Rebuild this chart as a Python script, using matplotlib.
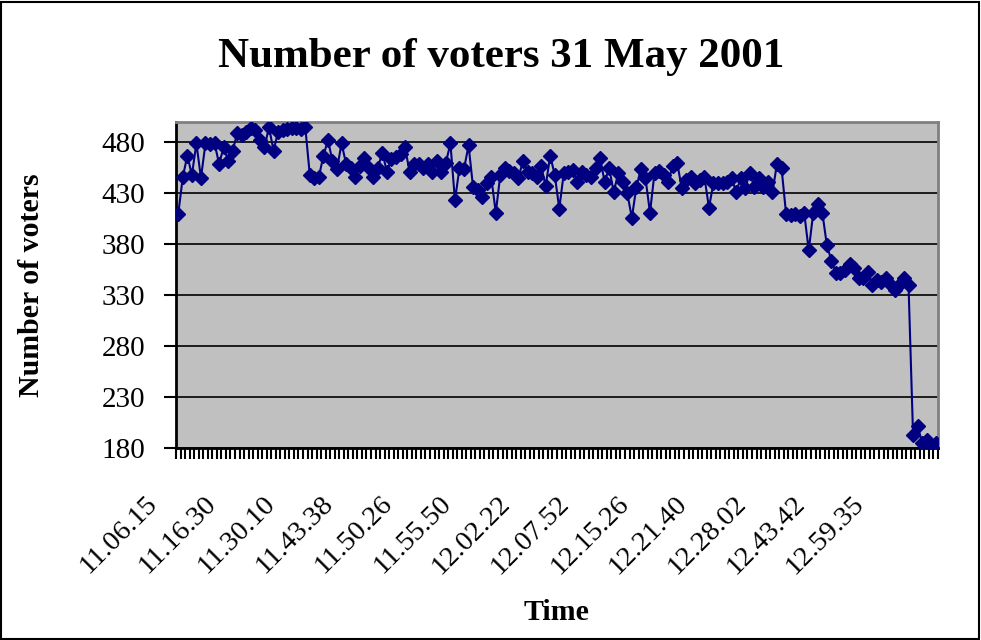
import matplotlib
matplotlib.use("Agg")
import matplotlib.pyplot as plt
import matplotlib.transforms as mtransforms
from matplotlib.patches import Rectangle
import numpy as np

title = "Number of voters 31 May 2001"
x_label = "Time"
y_label = "Number of voters"

voters = [
    410, 446, 467, 448, 479, 445, 479, 478, 479, 459, 475, 462, 472, 489, 487, 490,
    494, 492, 482, 475, 495, 472, 490, 492, 493, 494, 494, 493, 495,
    448, 445, 446, 467, 482, 462, 454, 479, 459, 455, 446, 457, 465, 455,
    446, 455, 470, 451, 464, 466, 469, 475, 451, 459, 459, 455, 459, 451,
    462, 451, 460, 479, 423, 455, 454, 477, 436, 433, 426, 440, 446, 411, 448,
    455, 452, 450, 445, 462, 451, 450, 446, 457, 437, 467, 448, 415, 450, 451, 453,
    441, 451, 448, 446, 455, 465, 441, 455, 431, 450, 441, 430, 406, 436, 454, 445,
    411, 450, 452, 448, 441, 457, 460, 435, 443, 446, 440, 443, 446, 416, 440,
    440, 440, 441, 445, 431, 445, 435, 450, 436, 445, 436, 441, 431, 459, 455,
    410, 409, 410, 408, 411, 374, 411, 420, 411, 379, 364, 352, 352, 355, 361, 357,
    347, 347, 353, 340, 345, 343, 347, 341, 335, 340, 347, 340, 193, 202, 185, 188,
    183, 185,
]

label_texts = ["11.06.15", "11.16.30", "11.30.10", "11.43.38", "11.50.26",
               "11.55.50", "12.02.22", "12.07.52", "12.15.26", "12.21.40",
               "12.28.02", "12.43.42", "12.59.35"]
label_step = 13

y_ticks = [180, 230, 280, 330, 380, 430, 480]

W, H = 981, 640
fig = plt.figure(figsize=(W / 100, H / 100), dpi=100)
fig.patch.set_facecolor("white")
fig.patches.append(Rectangle((0.001, 0.002), 0.997, 0.995, transform=fig.transFigure,
                             fill=False, edgecolor="black", linewidth=1.5))

ax = fig.add_axes([176 / W, 1 - 448 / H, (938 - 176) / W, (448 - 122) / H])
ax.set_facecolor("#C0C0C0")

n = len(voters)
x = np.arange(n)
ax.plot(x, voters, color="#000080", linewidth=1.5, marker="D", markersize=7.5,
        markerfacecolor="#000080", markeredgecolor="#000080", zorder=3)

ax.set_xlim(-0.5, n - 0.5)
ax.set_ylim(180, 500)

serif = ["Liberation Serif", "DejaVu Serif"]

ax.set_yticks(y_ticks)
ax.set_yticklabels([str(v) for v in y_ticks], fontsize=21, family=serif)
ax.yaxis.grid(True, color="black", linewidth=1.2)
ax.set_axisbelow(True)
ax.tick_params(axis="y", direction="out", length=9, width=1.5, pad=13)

ax.set_xticks(np.arange(-0.5, n, 1.0), minor=True)
ax.tick_params(axis="x", which="minor", direction="out", length=8, width=1.5)
label_pos = [i * label_step for i in range(len(label_texts))]
ax.set_xticks(label_pos)
ax.set_xticklabels(label_texts, rotation=45, ha="right", va="top",
                   rotation_mode="anchor", fontsize=20.5, family=serif)
ax.tick_params(axis="x", which="major", length=0, pad=0)
offset = mtransforms.ScaledTranslation(-34 / 100, -43 / 100, fig.dpi_scale_trans)
for lbl in ax.get_xticklabels():
    lbl.set_transform(lbl.get_transform() + offset)

for side in ["left", "bottom"]:
    ax.spines[side].set_color("black")
    ax.spines[side].set_linewidth(2)
for side in ["top", "right"]:
    ax.spines[side].set_color("#808080")
    ax.spines[side].set_linewidth(2)

fig.text(501 / W, 1 - 57 / H, title, ha="center", va="center",
         fontsize=31, fontweight="bold", family=serif)
fig.text(32 / W, 1 - 285 / H, y_label, ha="center", va="center", rotation=90,
         fontsize=21.5, fontweight="bold", family=serif)
fig.text(557 / W, 1 - 612 / H, x_label, ha="center", va="center",
         fontsize=21.5, fontweight="bold", family=serif)

fig.savefig("out.png", dpi=100)
